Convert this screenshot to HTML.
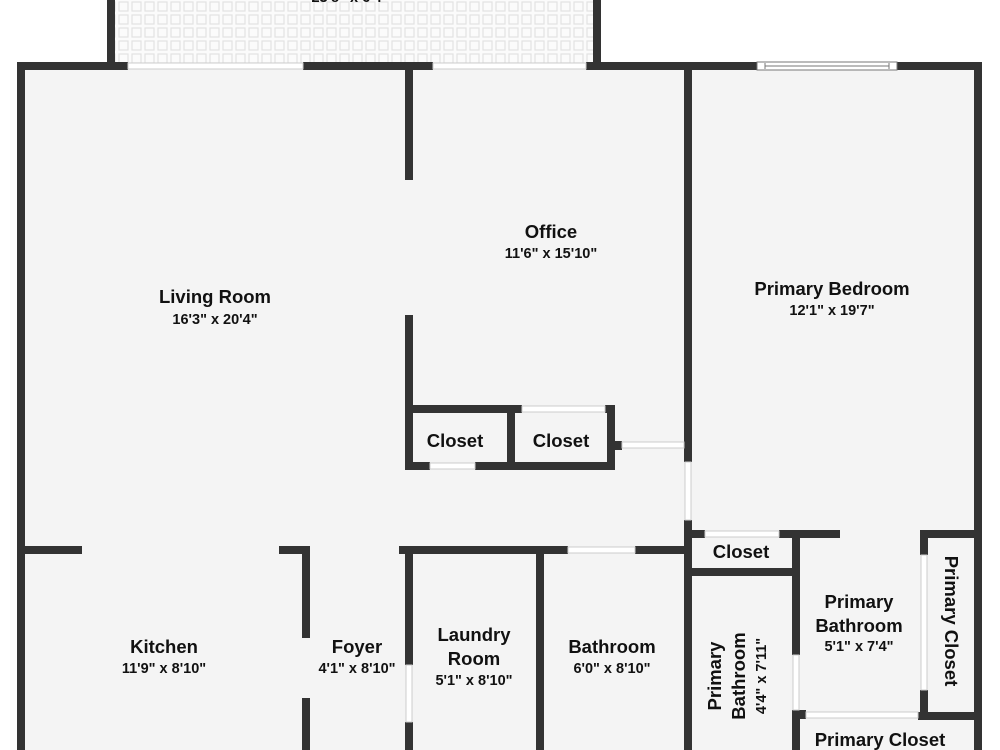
<!DOCTYPE html>
<html><head><meta charset="utf-8"><style>
html,body{margin:0;padding:0;background:#fff;}
svg{display:block}
text{font-family:"Liberation Sans",sans-serif;font-weight:bold;fill:#111;text-anchor:middle}
.t{font-size:18.5px}.d{font-size:14.5px}
</style></head><body>
<svg width="1000" height="750" viewBox="0 0 1000 750" xmlns="http://www.w3.org/2000/svg">
<defs>
<pattern id="tile" width="13" height="13" patternUnits="userSpaceOnUse">
<rect width="13" height="13" fill="#fbfbfb"/>
<rect x="2" y="2" width="9" height="9" fill="none" stroke="#e2e2e2" stroke-width="1.2"/>
</pattern>
</defs>
<rect x="111" y="0" width="485" height="66" fill="url(#tile)"/>
<text class="d" x="350" y="2">23'8" x 6'4"</text>
<rect x="21" y="66" width="957" height="684" fill="#f4f4f4"/>
<g fill="#333">
<rect x="107" y="0" width="8" height="70"/>
<rect x="593" y="0" width="8" height="70"/>
<rect x="17" y="62" width="111" height="8"/>
<rect x="303" y="62" width="130" height="8"/>
<rect x="586" y="62" width="171" height="8"/>
<rect x="897" y="62" width="85" height="8"/>
<rect x="17" y="62" width="8" height="688"/>
<rect x="974" y="62" width="8" height="688"/>
<rect x="405" y="62" width="8" height="118"/>
<rect x="405" y="315" width="8" height="155"/>
<rect x="684" y="62" width="8" height="400"/>
<rect x="684" y="520" width="8" height="230"/>
<rect x="405" y="405" width="117" height="8"/>
<rect x="605" y="405" width="10" height="8"/>
<rect x="405" y="462" width="25" height="8"/>
<rect x="475" y="462" width="140" height="8"/>
<rect x="507" y="405" width="8" height="65"/>
<rect x="607" y="405" width="8" height="65"/>
<rect x="607" y="441" width="15" height="9"/>
<rect x="17" y="546" width="65" height="8"/>
<rect x="279" y="546" width="31" height="8"/>
<rect x="399" y="546" width="169" height="8"/>
<rect x="635" y="546" width="57" height="8"/>
<rect x="302" y="546" width="8" height="92"/>
<rect x="302" y="698" width="8" height="52"/>
<rect x="405" y="546" width="8" height="119"/>
<rect x="405" y="722" width="8" height="28"/>
<rect x="536" y="546" width="8" height="204"/>
<rect x="684" y="530" width="21" height="8"/>
<rect x="779" y="530" width="61" height="8"/>
<rect x="684" y="568" width="116" height="8"/>
<rect x="792" y="530" width="8" height="125"/>
<rect x="792" y="710" width="8" height="40"/>
<rect x="792" y="710" width="14" height="9"/>
<rect x="920" y="530" width="62" height="8"/>
<rect x="920" y="530" width="8" height="25"/>
<rect x="920" y="690" width="8" height="30"/>
<rect x="918" y="712" width="64" height="8"/>
</g>
<g fill="#fff" stroke="#ccc" stroke-width="1">
<rect x="128" y="63" width="175" height="6"/>
<rect x="433" y="63" width="153" height="6"/>
<rect x="522" y="406" width="83" height="6"/>
<rect x="430" y="463" width="45" height="6"/>
<rect x="622" y="442" width="62" height="6"/>
<rect x="685" y="462" width="6" height="58"/>
<rect x="568" y="547" width="67" height="6"/>
<rect x="406" y="665" width="6" height="57"/>
<rect x="705" y="531" width="74" height="6"/>
<rect x="793" y="655" width="6" height="55"/>
<rect x="921" y="555" width="6" height="135"/>
<rect x="806" y="712" width="112" height="6"/>
</g>
<rect x="757" y="62" width="140" height="8" fill="#fff" stroke="#777" stroke-width="1"/>
<line x1="765" y1="66" x2="889" y2="66" stroke="#777" stroke-width="1"/>
<line x1="765" y1="63" x2="765" y2="69" stroke="#777"/>
<line x1="889" y1="63" x2="889" y2="69" stroke="#777"/>
<text class="t" x="551" y="238">Office</text>
<text class="d" x="551" y="258">11'6" x 15'10"</text>
<text class="t" x="215" y="303">Living Room</text>
<text class="d" x="215" y="324">16'3" x 20'4"</text>
<text class="t" x="832" y="295">Primary Bedroom</text>
<text class="d" x="832" y="315">12'1" x 19'7"</text>
<text class="t" x="455" y="447">Closet</text>
<text class="t" x="561" y="447">Closet</text>
<text class="t" x="741" y="558">Closet</text>
<text class="t" x="164" y="653">Kitchen</text>
<text class="d" x="164" y="673">11'9" x 8'10"</text>
<text class="t" x="357" y="653">Foyer</text>
<text class="d" x="357" y="673">4'1" x 8'10"</text>
<text class="t" x="474" y="641">Laundry</text>
<text class="t" x="474" y="665">Room</text>
<text class="d" x="474" y="685">5'1" x 8'10"</text>
<text class="t" x="612" y="653">Bathroom</text>
<text class="d" x="612" y="673">6'0" x 8'10"</text>
<text class="t" x="859" y="608">Primary</text>
<text class="t" x="859" y="632">Bathroom</text>
<text class="d" x="859" y="651">5'1" x 7'4"</text>
<text class="t" x="880" y="746">Primary Closet</text>
<text class="t" transform="translate(945,621) rotate(90)">Primary Closet</text>
<text class="t" transform="translate(721,676) rotate(-90)">Primary</text>
<text class="t" transform="translate(745,676) rotate(-90)">Bathroom</text>
<text class="d" transform="translate(766,676) rotate(-90)">4'4" x 7'11"</text>
</svg>
</body></html>
